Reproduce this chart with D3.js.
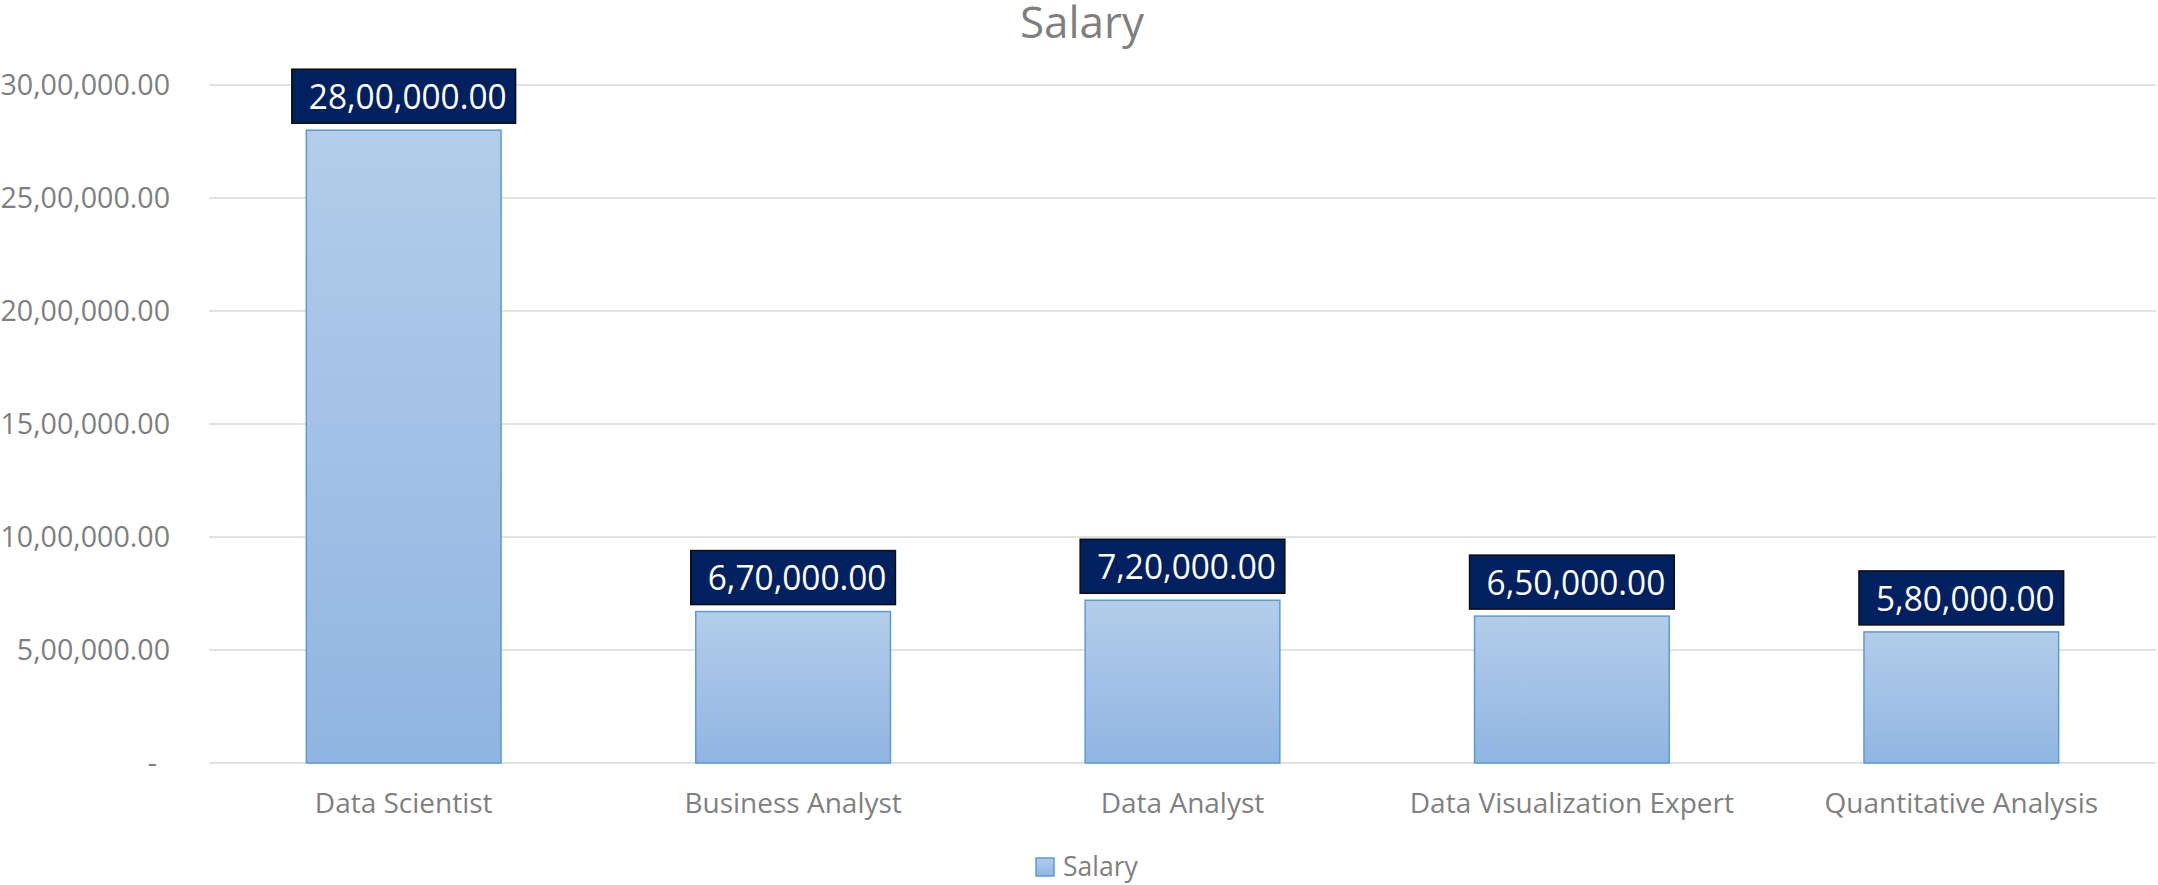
<!DOCTYPE html>
<html>
<head>
<meta charset="utf-8">
<script src="https://cdn.jsdelivr.net/npm/d3@7"></script>
<style>
  body { margin: 0; background: #fff; }
  text { font-family: "Open Sans", "Noto Sans", sans-serif; }
</style>
</head>
<body>
<main></main>
<script>
// chart data
const jobs = ["Data Scientist", "Business Analyst", "Data Analyst", "Data Visualization Expert", "Quantitative Analysis"]
const salary = [2800000, 670000, 720000, 650000, 580000]
const yTicks = [0, 500000, 1000000, 1500000, 2000000, 2500000, 3000000]
const seriesName = "Salary"

const sizeOfSVG = {
    width: 2158,
    height: 885,
    left: 209,
    right: 2,
    top: 85,
    bottom: 122
}

// indian style grouping, 28,00,000.00
const indianFormat = (v) => {
    if (v === 0) return "-"
    let [int, dec] = v.toFixed(2).split(".")
    let last3 = int.slice(-3)
    let rest = int.slice(0, -3)
    if (rest.length) rest = rest.replace(/\B(?=(\d{2})+(?!\d))/g, ",") + ","
    return rest + last3 + "." + dec
}

// squeeze text so the glyphs are as narrow as the reference
const squeeze = (sel, k) => {
    sel.each(function () {
        const w = this.getComputedTextLength()
        d3.select(this).attr("textLength", w * k).attr("lengthAdjust", "spacingAndGlyphs")
    })
}

const svg = d3.select("main")
    .append("svg")
    .attr("width", sizeOfSVG.width)
    .attr("height", sizeOfSVG.height)

const defs = svg.append("defs")
const grad = defs.append("linearGradient")
    .attr("id", "barGrad")
    .attr("x1", 0).attr("y1", 0).attr("x2", 0).attr("y2", 1)
grad.append("stop").attr("offset", "0%").attr("stop-color", "#b3cdea")
grad.append("stop").attr("offset", "100%").attr("stop-color", "#90b5e2")

const xScale = d3.scaleBand()
    .domain(jobs)
    .range([sizeOfSVG.left, sizeOfSVG.width - sizeOfSVG.right])
    .paddingInner(0.5)
    .paddingOuter(0.25)

const yScale = d3.scaleLinear()
    .domain([0, 3000000])
    .range([sizeOfSVG.height - sizeOfSVG.bottom, sizeOfSVG.top])

// gridlines
svg.append("g")
    .selectAll("line")
    .data(yTicks)
    .enter()
    .append("line")
    .attr("x1", sizeOfSVG.left)
    .attr("x2", sizeOfSVG.width - sizeOfSVG.right)
    .attr("y1", d => yScale(d))
    .attr("y2", d => yScale(d))
    .attr("stroke", "#d9d9d9")
    .attr("stroke-width", 1.5)

// y axis labels
const yAxis = d3.axisLeft(yScale)
    .tickValues(yTicks)
    .tickSize(0)
    .tickPadding(39)
    .tickFormat(indianFormat)

const yG = svg.append("g")
    .attr("transform", "translate(" + sizeOfSVG.left + ",0)")
    .call(yAxis)
yG.select(".domain").remove()
yG.selectAll("text")
    .attr("fill", "#7f7f7f")
    .style("font-size", "29.5px")
    .attr("dx", d => d === 0 ? -13 : 0)
    .call(squeeze, 0.97)

// bars
svg.append("g")
    .selectAll("rect")
    .data(salary)
    .enter()
    .append("rect")
    .attr("x", (d, i) => xScale(jobs[i]))
    .attr("y", d => yScale(d))
    .attr("width", xScale.bandwidth())
    .attr("height", d => yScale(0) - yScale(d))
    .attr("fill", "url(#barGrad)")
    .attr("stroke", "#5b9bd5")
    .attr("stroke-width", 1.5)

// x axis labels
const xAxis = d3.axisBottom(xScale).tickSize(0).tickPadding(30)
const xG = svg.append("g")
    .attr("transform", "translate(0," + yScale(0) + ")")
    .call(xAxis)
xG.select(".domain").remove()
xG.selectAll("text")
    .attr("fill", "#7f7f7f")
    .style("font-size", "28px")

// data labels in dark boxes
const boxH = 54
const fontV = 35.5
const labels = svg.append("g")
    .selectAll("g")
    .data(salary)
    .enter()
    .append("g")

labels.each(function (d, i) {
    const g = d3.select(this)
    const cx = xScale(jobs[i]) + xScale.bandwidth() / 2
    const top = yScale(d) - 7 - boxH
    const rect = g.append("rect")
    const t = g.append("text")
        .text(indianFormat(d))
        .attr("fill", "#fff")
        .style("font-size", fontV + "px")
        .attr("y", top + boxH / 2 + fontV * 0.357)
        .call(squeeze, 0.94)
    const w = +t.attr("textLength")
    const bw = w + 26
    t.attr("x", cx - bw / 2 + 17)
    rect.attr("x", cx - bw / 2)
        .attr("y", top)
        .attr("width", bw)
        .attr("height", boxH)
        .attr("fill", "#002060")
        .attr("stroke", "#0d0d0d")
        .attr("stroke-width", 1.5)
})

// title
svg.append("text")
    .attr("x", sizeOfSVG.width / 2 + 3)
    .attr("y", 38)
    .attr("text-anchor", "middle")
    .attr("fill", "#7f7f7f")
    .style("font-size", "44px")
    .text(seriesName)

// legend
const legend = svg.append("g").attr("transform", "translate(1036,858)")
legend.append("rect")
    .attr("width", 18)
    .attr("height", 18)
    .attr("fill", "url(#barGrad)")
    .attr("stroke", "#5b9bd5")
    .attr("stroke-width", 1.5)
legend.append("text")
    .attr("x", 27)
    .attr("y", 18)
    .attr("fill", "#7f7f7f")
    .style("font-size", "26.5px")
    .text(seriesName)
</script>
</body>
</html>
